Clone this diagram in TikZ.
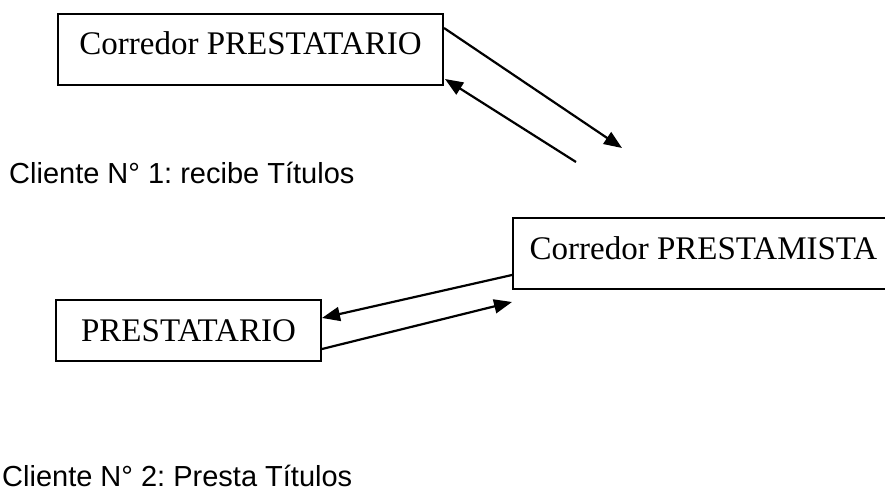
\documentclass[tikz,border=0pt]{standalone}
\usepackage{fontspec}
\setmainfont{Liberation Serif}
\newfontfamily\arialfont{Liberation Sans}
\usetikzlibrary{arrows.meta}
\frenchspacing
\tikzset{
  boxnode/.style={draw=black, line width=2pt, rectangle, inner xsep=0pt, inner ysep=0pt,
    font=\fontsize{33}{39}\selectfont, text depth=30pt, text height=41pt},
  conn/.style={draw=black, line width=2.2pt, -{Triangle[length=18pt,width=14pt]}},
  caption/.style={anchor=base west, inner sep=0pt, font=\arialfont\fontsize{29}{34}\selectfont}
}
\begin{document}
\begin{tikzpicture}[x=1pt,y=-1pt]
\useasboundingbox (0,0) rectangle (885,489);
\clip (0,0) rectangle (885,489);
\fill[white] (0,0) rectangle (885,489);
\node[boxnode, anchor=north west, minimum width=385pt] (b1) at (57,13) {Corredor PRESTATARIO};
\node[boxnode, anchor=north west, minimum width=381pt] (b2) at (512,217) {Corredor PRESTAMISTA};
\node[boxnode, anchor=north west, minimum width=265pt, text depth=20pt] (b3) at (55,299) {PRESTATARIO};
\coordinate (e1) at (622,148);
\coordinate (s2) at (576,162);
\node[caption] (c1) at (9,183) {Cliente N° 1: recibe Títulos};
\node[caption] (c2) at (2,486) {Cliente N° 2: Presta Títulos};
\draw[conn] ([yshift=-15pt]b1.north east) -- (e1);
\draw[conn] (s2) -- ([xshift=1pt,yshift=7pt]b1.south east);
\draw[conn] ([yshift=15pt]b2.south west) -- ([yshift=-19pt]b3.north east);
\draw[conn] ([yshift=13pt]b3.south east) -- ([yshift=-12pt]b2.south west);
\end{tikzpicture}
\end{document}
